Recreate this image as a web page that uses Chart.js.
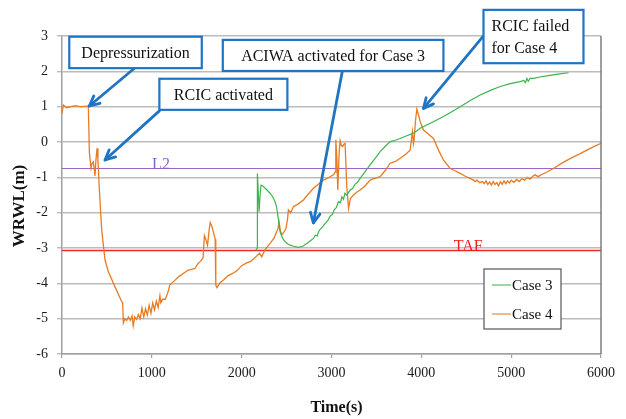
<!DOCTYPE html>
<html>
<head>
<meta charset="utf-8">
<script src="https://cdn.jsdelivr.net/npm/chart.js@4/dist/chart.umd.min.js"></script>
<style>
  html, body { margin: 0; padding: 0; background: #ffffff; }
  #wrap { width: 626px; height: 419px; }
</style>
</head>
<body>
<div id="wrap"><canvas id="c" width="626" height="419"></canvas></div>
<script>
// ---- Data ----
const xTicks = [0, 1000, 2000, 3000, 4000, 5000, 6000];
const yTicks = [3, 2, 1, 0, -1, -2, -3, -4, -5, -6];

const case4Time = [0, 15, 52, 145, 200, 250, 293, 305, 323, 335, 349, 360, 367, 378, 390, 400, 416, 442, 479, 516, 590, 665, 675, 683,
  700, 720, 740, 760, 780, 793, 810, 830, 850, 870, 890, 910, 930, 950, 970, 990, 1010, 1030, 1050, 1070, 1090, 1100, 1120, 1150, 1180,
  1200, 1250, 1300, 1350, 1400, 1450, 1480, 1510, 1540, 1570, 1585, 1600, 1620, 1640, 1650, 1670, 1690, 1705, 1712, 1725, 1760, 1800,
  1850, 1900, 1950, 2000, 2050, 2100, 2150, 2200, 2224, 2260, 2316, 2360, 2390, 2405, 2416, 2430, 2446, 2470, 2494, 2510, 2520, 2545,
  2576, 2630, 2687, 2740, 2799, 2850, 2910, 2960, 3022, 3040, 3048, 3060, 3070, 3085, 3096, 3110, 3125, 3140, 3151, 3170, 3190, 3210,
  3245, 3280, 3318, 3370, 3430, 3490, 3541, 3600, 3653, 3710, 3764, 3820, 3875, 3901, 3912, 3920, 3935, 3950, 3970, 3987, 4024, 4080,
  4135, 4191, 4246, 4321, 4380, 4432, 4490, 4543, 4580, 4600, 4620, 4650, 4680, 4700, 4720, 4740, 4760, 4780, 4800, 4820, 4840, 4860,
  4880, 4900, 4920, 4940, 4960, 4980, 5000, 5030, 5060, 5090, 5120, 5150, 5180, 5210, 5240, 5267, 5300, 5340, 5400, 5471, 5550, 5620,
  5694, 5770, 5843, 5920, 6000];
const case4Level = [0.80, 1.05, 0.97, 1.03, 1.00, 1.01, 1.02, -0.30, -0.74, -0.60, -0.56, -0.80, -0.96, -0.50, -0.18, -0.50, -1.36, -2.49, -3.34, -3.67, -4.10, -4.52, -4.55, -5.12,
  -5.00, -5.05, -4.95, -5.05, -4.92, -5.20, -4.95, -5.02, -4.88, -5.00, -4.70, -4.95, -4.72, -4.90, -4.62, -4.85, -4.55, -4.75, -4.50, -4.68, -4.35, -4.55, -4.45, -4.45, -4.25,
  -4.05, -3.93, -3.81, -3.72, -3.63, -3.60, -3.58, -3.45, -3.38, -3.28, -2.65, -2.75, -2.92, -2.45, -2.28, -2.40, -2.60, -2.75, -4.05, -4.12, -3.98, -3.90,
  -3.78, -3.72, -3.64, -3.50, -3.43, -3.38, -3.27, -3.15, -3.25, -3.05, -2.87, -2.72, -2.54, -2.45, -2.26, -2.50, -2.63, -2.55, -2.44, -2.20, -1.92, -2.00,
  -1.83, -1.75, -1.64, -1.48, -1.31, -1.20, -1.08, -1.02, -0.93, -0.85, 0.06, -0.50, -1.36, -0.30, 0.04, -0.10, -0.13, -0.05, -0.04, -1.26, -1.88, -1.60,
  -1.50, -1.42, -1.36, -1.25, -1.08, -1.02, -0.98, -0.80, -0.60, -0.55, -0.46, -0.36, -0.23, 0.29, -0.05, 0.06, 0.60, 0.93, 0.75, 0.58, 0.34, 0.22,
  0.10, -0.23, -0.51, -0.75, -0.82, -0.89, -0.97, -1.03, -1.08, -1.12, -1.08, -1.15, -1.12, -1.18, -1.10, -1.20, -1.13, -1.22, -1.12, -1.20, -1.15, -1.24,
  -1.12, -1.20, -1.10, -1.18, -1.10, -1.16, -1.08, -1.14, -1.06, -1.12, -1.04, -1.08, -1.00, -1.05, -0.97, -0.93, -0.98, -0.92, -0.85, -0.75, -0.62, -0.52,
  -0.42, -0.33, -0.23, -0.13, -0.04];

const case3Time = [2160, 2172, 2175, 2185, 2194, 2205, 2216, 2240, 2261, 2290, 2316, 2345, 2372, 2390, 2402, 2415, 2428, 2455, 2483, 2510,
  2539, 2580, 2631, 2680, 2725, 2762, 2799, 2820, 2840, 2860, 2873, 2900, 2930, 2960, 2984, 3010, 3030, 3055, 3077, 3100, 3115, 3133, 3150, 3170, 3207, 3235, 3260, 3290, 3318,
  3370, 3430, 3490, 3541, 3600, 3653, 3710, 3764, 3830, 3913, 3987, 4100, 4209, 4320, 4432, 4540, 4655, 4770, 4878, 4990, 5100, 5140,
  5160, 5174, 5190, 5210, 5249, 5320, 5397, 5520, 5638];
const case3Level = [-3.06, -3.00, -0.89, -1.40, -1.97, -1.50, -1.22, -1.25, -1.31, -1.38, -1.45, -1.55, -1.69, -1.85, -2.07, -2.30, -2.54, -2.72, -2.82, -2.88,
  -2.92, -2.95, -2.98, -2.95, -2.87, -2.80, -2.73, -2.64, -2.66, -2.52, -2.47, -2.40, -2.30, -2.22, -2.10, -2.05, -1.92, -1.85, -1.69, -1.72, -1.55, -1.62, -1.45, -1.50, -1.36, -1.32, -1.20, -1.14, -1.03,
  -0.85, -0.65, -0.45, -0.27, -0.12, 0.01, 0.05, 0.10, 0.17, 0.25, 0.39, 0.53, 0.67, 0.83, 1.00, 1.17, 1.33, 1.46, 1.57, 1.65, 1.71, 1.74,
  1.68, 1.80, 1.72, 1.80, 1.80, 1.84, 1.87, 1.92, 1.96];

const l2Level = -0.75;
const tafLevel = -3.07;

const seriesNames = ['Case 3', 'Case 4'];
const seriesColors = ['#3cb44e', '#e87b22'];

// Annotations (data coordinates)
const noteBoxes = [
  { lines: ['Depressurization'], x1: 81, x2: 1556, y1: 2.98, y2: 2.09 },
  { lines: ['RCIC activated'], x1: 1084, x2: 2509, y1: 1.79, y2: 0.91 },
  { lines: ['ACIWA activated for Case 3'], x1: 1790, x2: 4246, y1: 2.89, y2: 2.01 },
  { lines: ['RCIC failed', 'for Case 4'], x1: 4692, x2: 5805, y1: 3.74, y2: 2.23 }
];
const noteArrows = [
  { fx: 813, fy: 2.10, tx: 304, ty: 1.02 },
  { fx: 1084, fy: 0.88, tx: 479, ty: -0.51 },
  { fx: 3121, fy: 2.01, tx: 2798, ty: -2.29 },
  { fx: 4685, fy: 2.98, tx: 4024, ty: 0.95 }
];
const refLabels = [
  { text: 'L2', x: 1102, y: -0.75, color: '#8f5fc6' },
  { text: 'TAF', x: 4521, y: -3.07, color: '#f02020' }
];

// ---- Build ----
const zip = (xs, ys) => xs.map((x, i) => ({ x: x, y: ys[i] }));
const SERIF = "'Liberation Serif', 'DejaVu Serif', serif";
const BLUE = '#1f74c4';

const overlay = {
  id: 'overlay',
  afterDatasetsDraw(chart) {
    const ctx = chart.ctx;
    const xs = chart.scales.x, ys = chart.scales.y;
    const ca = chart.chartArea;
    ctx.save();
    // right border of plot
    ctx.strokeStyle = '#6a6a6a';
    ctx.lineWidth = 1.3;
    ctx.beginPath();
    ctx.moveTo(ca.right, ca.top);
    ctx.lineTo(ca.right, ca.bottom);
    ctx.stroke();

    // reference labels
    ctx.font = '16px ' + SERIF;
    ctx.textAlign = 'center';
    ctx.textBaseline = 'alphabetic';
    refLabels.forEach(r => {
      ctx.fillStyle = r.color;
      ctx.fillText(r.text, xs.getPixelForValue(r.x), ys.getPixelForValue(r.y) + 0.5);
    });

    // arrows
    ctx.strokeStyle = BLUE;
    ctx.lineWidth = 2.8;
    ctx.lineCap = 'round';
    ctx.lineJoin = 'round';
    noteArrows.forEach(a => {
      const x1 = xs.getPixelForValue(a.fx), y1 = ys.getPixelForValue(a.fy);
      const x2 = xs.getPixelForValue(a.tx), y2 = ys.getPixelForValue(a.ty);
      const ang = Math.atan2(y2 - y1, x2 - x1);
      const hl = 11, hw = 0.45;
      ctx.beginPath();
      ctx.moveTo(x1, y1);
      ctx.lineTo(x2, y2);
      ctx.stroke();
      ctx.beginPath();
      ctx.moveTo(x2 - hl * Math.cos(ang - hw), y2 - hl * Math.sin(ang - hw));
      ctx.lineTo(x2, y2);
      ctx.lineTo(x2 - hl * Math.cos(ang + hw), y2 - hl * Math.sin(ang + hw));
      ctx.stroke();
    });

    // boxes
    ctx.lineCap = 'butt';
    ctx.lineJoin = 'miter';
    noteBoxes.forEach(b => {
      const l = xs.getPixelForValue(b.x1), r = xs.getPixelForValue(b.x2);
      const t = ys.getPixelForValue(b.y1), bt = ys.getPixelForValue(b.y2);
      ctx.fillStyle = '#ffffff';
      ctx.fillRect(l, t, r - l, bt - t);
      ctx.strokeStyle = BLUE;
      ctx.lineWidth = 2.2;
      ctx.strokeRect(l, t, r - l, bt - t);
      ctx.fillStyle = '#111111';
      ctx.font = '16px ' + SERIF;
      ctx.textBaseline = 'middle';
      const n = b.lines.length;
      const lh = 22;
      const cy = (t + bt) / 2;
      b.lines.forEach((s, i) => {
        const yy = cy + (i - (n - 1) / 2) * lh + 1;
        if (n > 1) {
          ctx.textAlign = 'left';
          ctx.fillText(s, l + 8, yy);
        } else {
          ctx.textAlign = 'center';
          ctx.fillText(s, (l + r) / 2, yy);
        }
      });
    });

    // legend
    const lx = ca.right - 117, ly = ca.top + 233, lw = 77, lh2 = 60;
    ctx.fillStyle = '#ffffff';
    ctx.fillRect(lx, ly, lw, lh2);
    ctx.strokeStyle = '#555555';
    ctx.lineWidth = 1.2;
    ctx.strokeRect(lx, ly, lw, lh2);
    ctx.font = '15px ' + SERIF;
    ctx.textAlign = 'left';
    ctx.textBaseline = 'middle';
    seriesNames.forEach((nm, i) => {
      const yy = ly + 16 + i * 29;
      ctx.strokeStyle = seriesColors[i];
      ctx.globalAlpha = 0.8;
      ctx.lineWidth = 1.3;
      ctx.beginPath();
      ctx.moveTo(lx + 8, yy);
      ctx.lineTo(lx + 27, yy);
      ctx.stroke();
      ctx.globalAlpha = 1;
      ctx.fillStyle = '#111111';
      ctx.fillText(nm, lx + 28, yy + 1);
    });

    // axis titles
    ctx.fillStyle = '#111111';
    ctx.font = 'bold 16px ' + SERIF;
    ctx.textAlign = 'center';
    ctx.textBaseline = 'middle';
    ctx.fillText('Time(s)', (ca.left + ca.right) / 2 + 5, 408);
    ctx.save();
    ctx.translate(20, (ca.top + ca.bottom) / 2 + 11);
    ctx.rotate(-Math.PI / 2);
    ctx.font = 'bold 17px ' + SERIF;
    ctx.fillText('WRWL(m)', 0, 0);
    ctx.restore();

    ctx.restore();
  }
};

new Chart(document.getElementById('c'), {
  type: 'line',
  data: {
    datasets: [
      { label: seriesNames[0], data: zip(case3Time, case3Level), borderColor: seriesColors[0], borderWidth: 1.2, pointRadius: 0, tension: 0, fill: false },
      { label: seriesNames[1], data: zip(case4Time, case4Level), borderColor: seriesColors[1], borderWidth: 1.3, pointRadius: 0, tension: 0, fill: false },
      { label: 'L2', data: zip([0, 6000], [l2Level, l2Level]), borderColor: '#9a66cc', borderWidth: 1.2, pointRadius: 0, fill: false },
      { label: 'TAF', data: zip([0, 6000], [tafLevel, tafLevel]), borderColor: '#f52525', borderWidth: 1.4, pointRadius: 0, fill: false }
    ]
  },
  options: {
    responsive: false,
    animation: false,
    devicePixelRatio: 1,
    layout: { padding: { top: 36, right: 25, bottom: 0, left: 0 } },
    plugins: { legend: { display: false }, tooltip: { enabled: false }, title: { display: false } },
    scales: {
      x: {
        type: 'linear', min: 0, max: 6000,
        afterBuildTicks: s => { s.ticks = xTicks.map(v => ({ value: v })); },
        afterFit: s => { s.height = 65; },
        grid: { drawOnChartArea: false, drawTicks: true, tickLength: 4, color: '#a0a0a0', lineWidth: 1.2 },
        border: { display: true, color: '#a0a0a0', width: 1.5 },
        ticks: { font: { family: SERIF, size: 14 }, color: '#1a1a1a', padding: 7, maxRotation: 0, callback: v => String(v) }
      },
      y: {
        type: 'linear', min: -6, max: 3,
        afterBuildTicks: s => { s.ticks = yTicks.map(v => ({ value: v })); },
        afterFit: s => { s.width = 62; },
        grid: { drawOnChartArea: true, drawTicks: true, tickLength: 5, color: '#bcbcbc', lineWidth: 1.4 },
        border: { display: true, color: '#a0a0a0', width: 1.5 },
        ticks: { font: { family: SERIF, size: 14 }, color: '#1a1a1a', padding: 9, callback: v => String(v) }
      }
    }
  },
  plugins: [overlay]
});
</script>
</body>
</html>
